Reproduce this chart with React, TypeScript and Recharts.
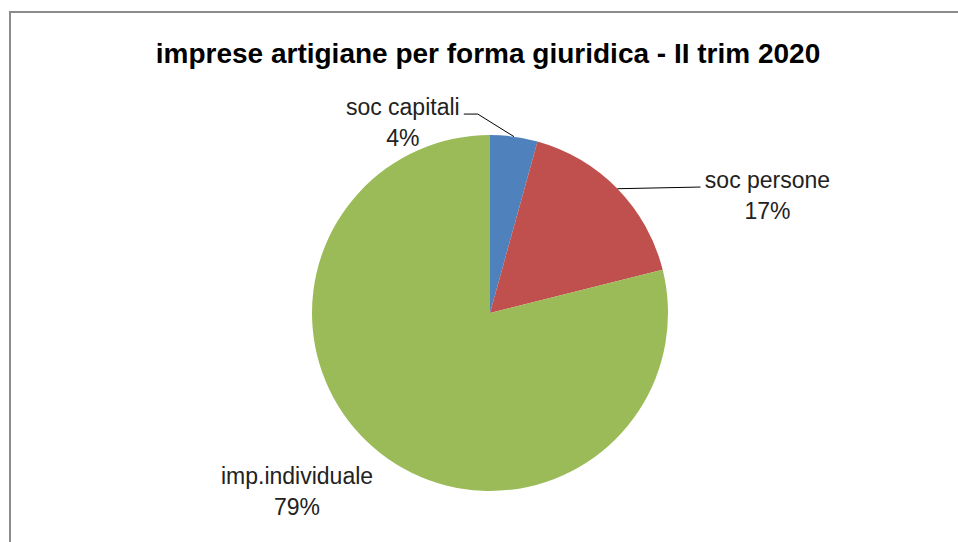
import { PieChart, Pie, Cell } from "recharts";

const categories = ["soc capitali", "soc persone", "imp.individuale"];
const shares = [4.3, 16.8, 78.9];
const pctLabels = ["4%", "17%", "79%"];
const colors = ["#4F81BD", "#C0504D", "#9BBB59"];

const data = categories.map((name, i) => ({ name, value: shares[i] }));

// label placement: baseline of first line, offset from the pie centre in radii
const labelPos = [
  { dx: -0.49, dy: -1.112 },
  { dx: 1.559, dy: -0.702 },
  { dx: -1.084, dy: 0.961 },
];

const RAD = Math.PI / 180;
const FONT = "'Liberation Sans', Arial, sans-serif";

function renderLabel(props: any) {
  const { cx, cy, midAngle, outerRadius, index } = props;
  const p = labelPos[index];
  const x = cx + p.dx * outerRadius;
  const y = cy + p.dy * outerRadius;
  const ex = cx + outerRadius * Math.cos(-midAngle * RAD);
  const ey = cy + outerRadius * Math.sin(-midAngle * RAD);
  let leader = null;
  if (index === 0) {
    const sx = x + 61;
    const sy = y - 1;
    leader = <polyline points={`${sx},${sy} ${sx + 14},${sy} ${ex},${ey}`} fill="none" stroke="#000" strokeWidth={1} />;
  } else if (index === 1) {
    const sx = x - 67;
    const sy = y - 1;
    leader = <polyline points={`${sx},${sy} ${ex},${ey}`} fill="none" stroke="#000" strokeWidth={1} />;
  }
  return (
    <g>
      {leader}
      <text x={x} y={y} textAnchor="middle" fontFamily={FONT} fontSize={23} fill="#222">
        {categories[index]}
      </text>
      <text x={x} y={y + 31} textAnchor="middle" fontFamily={FONT} fontSize={23} fill="#222">
        {pctLabels[index]}
      </text>
    </g>
  );
}

export default function App() {
  return (
    <div style={{ position: "absolute", left: 0, top: 0, width: 958, height: 542, overflow: "hidden", background: "#fff" }}>
      <div
        style={{
          position: "absolute",
          left: 9,
          top: 11,
          width: 1000,
          height: 600,
          border: "2px solid #8c8c8c",
          boxSizing: "border-box",
        }}
      />
      <div style={{ position: "absolute", left: 0, top: 0 }}>
        <PieChart width={958} height={542} margin={{ top: 0, right: 0, bottom: 0, left: 0 }}>
          <text x={488} y={63} textAnchor="middle" fontFamily={FONT} fontWeight="bold" fontSize={28} fill="#000">
            imprese artigiane per forma giuridica - II trim 2020
          </text>
          <Pie
            data={data}
            dataKey="value"
            nameKey="name"
            cx={490}
            cy={313}
            outerRadius={178}
            startAngle={90}
            endAngle={-270}
            stroke="none"
            label={renderLabel}
            labelLine={false}
            isAnimationActive={false}
          >
            {data.map((d, i) => (
              <Cell key={d.name} fill={colors[i]} />
            ))}
          </Pie>
        </PieChart>
      </div>
    </div>
  );
}
